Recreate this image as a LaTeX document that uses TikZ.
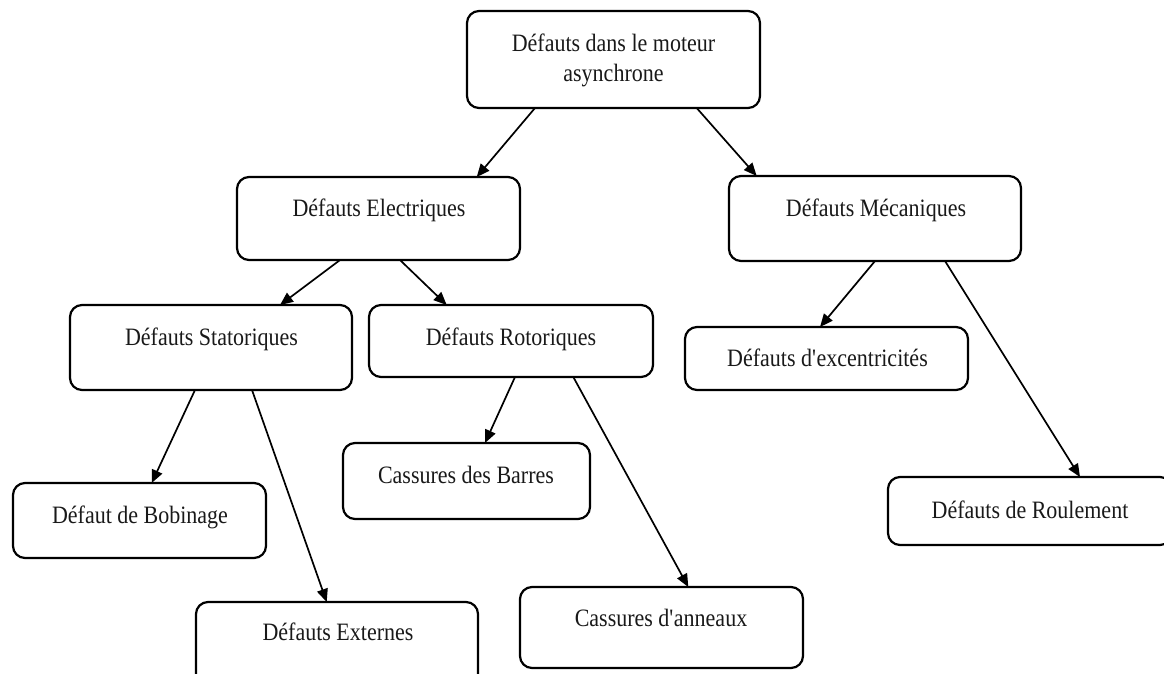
\documentclass[tikz,border=0pt]{standalone}
\usepackage{fontspec}
\setmainfont{Liberation Serif}[FakeStretch=0.88]
\usetikzlibrary{arrows.meta}
\tikzset{
  box/.style={draw=black, line width=2.2pt, rounded corners=12pt, inner sep=0pt, outer sep=0pt},
  lbl/.style={anchor=base, inner sep=0pt, text=black!90, font=\fontsize{25}{30}\selectfont},
  conn/.style={line width=1.7pt, -{Triangle[length=13pt,width=11pt]}}
}
\begin{document}
\begin{tikzpicture}[x=1pt,y=-1pt]
\useasboundingbox (0,0) rectangle (1164,673);
\clip (0,0) rectangle (1164,673);
% boxes
\node[box, minimum width=293pt, minimum height=97pt] (top) at (613.5,59.5) {};
\node[box, minimum width=283pt, minimum height=83pt] (elec) at (378.5,218.5) {};
\node[box, minimum width=292pt, minimum height=85pt] (meca) at (875,218.5) {};
\node[box, minimum width=282pt, minimum height=85pt] (stat) at (211,347.5) {};
\node[box, minimum width=284pt, minimum height=72pt] (rot) at (511,341) {};
\node[box, minimum width=283pt, minimum height=63pt] (exc) at (826.5,358.5) {};
\node[box, minimum width=253pt, minimum height=75pt] (bob) at (139.5,520.5) {};
\node[box, minimum width=247pt, minimum height=76pt] (bar) at (466.5,481) {};
\node[box, minimum width=284pt, minimum height=68pt] (roul) at (1030,511) {};
\node[box, minimum width=282pt, minimum height=88pt] (ext) at (337,646) {};
\node[box, minimum width=283pt, minimum height=81pt] (ann) at (661.5,627.5) {};
% texts
\node[lbl] (t1a) at (613.5,51.7) {Défauts dans le moteur};
\node[lbl] (t1b) at (613.5,81.7) {asynchrone};
\node[lbl] (t2) at (379,216.7) {Défauts Electriques};
\node[lbl] (t3) at (876,216.7) {Défauts Mécaniques};
\node[lbl] (t4) at (211.5,345) {Défauts Statoriques};
\node[lbl] (t5) at (511,345) {Défauts Rotoriques};
\node[lbl] (t6) at (827.5,366.7) {Défauts d\textquotesingle excentricités};
\node[lbl] (t7) at (140,523) {Défaut de Bobinage};
\node[lbl] (t8) at (466,483) {Cassures des Barres};
\node[lbl] (t9) at (1030,518.3) {Défauts de Roulement};
\node[lbl] (t10) at (338,640) {Défauts Externes};
\node[lbl] (t11) at (661,626.7) {Cassures d\textquotesingle anneaux};
% connectors
\draw[conn] ([xshift=-78.5pt]top.south) -- ([xshift=98.2pt]elec.north);
\draw[conn] ([xshift=83.2pt]top.south) -- ([xshift=-118.3pt]meca.north);
\draw[conn] ([xshift=-38.5pt]elec.south) -- ([xshift=69pt]stat.north);
\draw[conn] ([xshift=21.5pt]elec.south) -- ([xshift=-64.3pt]rot.north);
\draw[conn] (meca.south) -- ([xshift=-6.5pt]exc.north);
\draw[conn] ([xshift=70pt]meca.south) -- ([xshift=50pt]roul.north);
\draw[conn] ([xshift=-16pt]stat.south) -- ([xshift=12.2pt]bob.north);
\draw[conn] ([xshift=41pt]stat.south) -- ([xshift=-10.3pt]ext.north);
\draw[conn] ([xshift=4pt]rot.south) -- ([xshift=18.5pt]bar.north);
\draw[conn] ([xshift=62.3pt]rot.south) -- ([xshift=26.8pt]ann.north);
\end{tikzpicture}
\end{document}
